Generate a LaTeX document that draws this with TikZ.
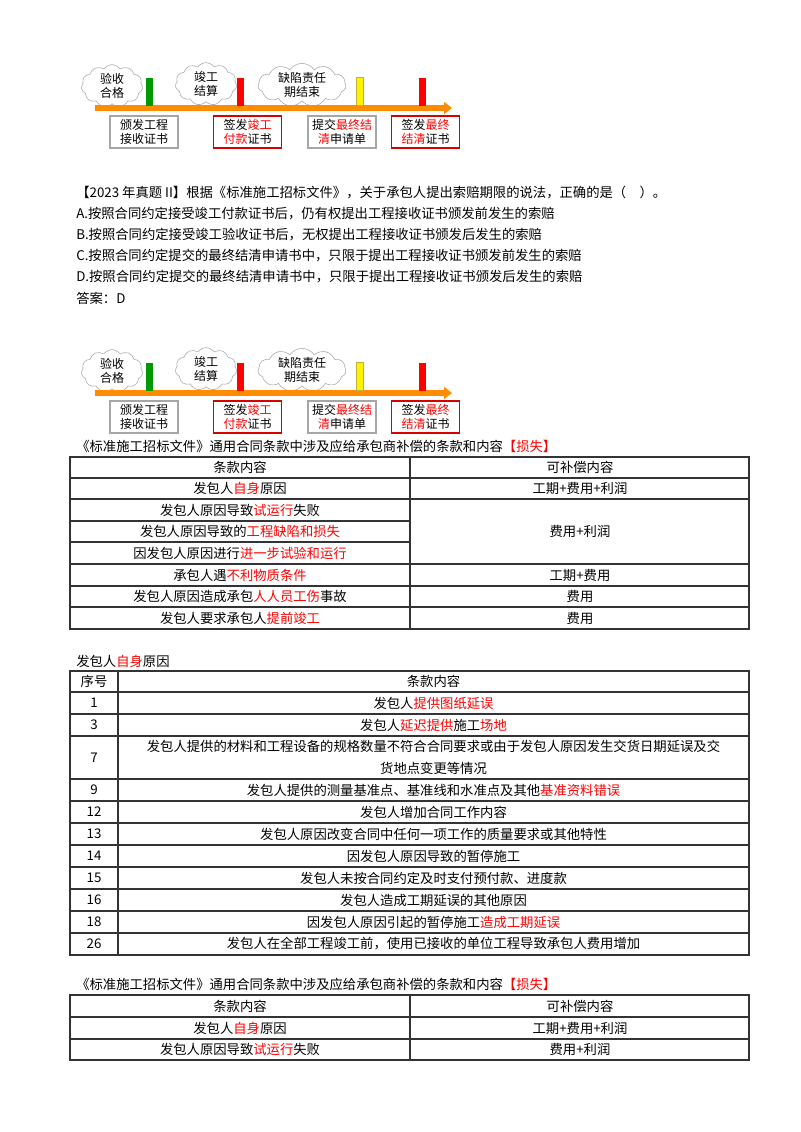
\documentclass[tikz,border=0pt]{standalone}
\usepackage{fontspec}
\setmainfont{Noto Sans CJK SC}
\usetikzlibrary{shapes.symbols,arrows.meta}
\newcommand\RD[1]{\textcolor{red}{#1}}
\tikzset{
 cl/.style={cloud,cloud puffs=11,cloud puff arc=110,aspect=1.5,draw=gray!70,fill=white,inner sep=0pt,minimum width=46pt,minimum height=32pt,font=\fontsize{9}{10}\selectfont,align=center},
 mk/.style={draw=none,minimum width=5.5pt,minimum height=21pt,inner sep=0pt},
 gb/.style={draw=gray!70,line width=0.8pt,minimum width=51pt,minimum height=24pt,inner sep=1pt,align=center,font=\fontsize{9}{10.5}\selectfont},
 rb/.style={gb,draw=red!85!black},
 tx/.style={anchor=west,inner sep=0pt,font=\fontsize{10}{12}\selectfont},
 ct/.style={inner sep=0pt,font=\fontsize{10}{12}\selectfont,align=center},
 tl/.style={line width=0.8pt,black!80}
}
\begin{document}
\begin{tikzpicture}[x=0.75pt,y=-0.75pt]
\useasboundingbox (0,0) rectangle (800,1132);
\foreach \o in {0,285}{
 \node[cl] (ca\o) at (112,86+\o) {验收\\合格};
 \node[cl] (cb\o) at (206,84+\o) {竣工\\结算};
 \node[cl,aspect=2,minimum width=66pt] (cc\o) at (302,85+\o) {缺陷责任\\期结束};
 \coordinate (s\o) at (95,108+\o);
 \coordinate (e\o) at (452,108+\o);
 \draw[line width=4.5pt,orange!90!yellow,-{Triangle[length=6pt,width=9pt]}] (s\o) -- (e\o);
 \node[mk,fill=green!60!black,anchor=south] (m1\o) at (149.5,106+\o) {};
 \node[mk,fill=red,anchor=south] (m2\o) at (240.5,106+\o) {};
 \node[mk,fill=yellow,draw=yellow!70!black,anchor=south] (m3\o) at (359.5,106+\o) {};
 \node[mk,fill=red,anchor=south] (m4\o) at (422.5,106+\o) {};
 \node[gb] (b1\o) at (144,132+\o) {颁发工程\\接收证书};
 \node[rb] (b2\o) at (247.5,132+\o) {签发\RD{竣工}\\\RD{付款}证书};
 \node[gb] (b3\o) at (342,132+\o) {提交\RD{最终结}\\\RD{清}申请单};
 \node[rb] (b4\o) at (425.5,132+\o) {签发\RD{最终}\\\RD{结清}证书};
}
\node[tx] (q0) at (76,193) {【2023 年真题 II】根据《标准施工招标文件》，关于承包人提出索赔期限的说法，正确的是（\quad）。};
\node[tx] (qa) at (76,214) {A.按照合同约定接受竣工付款证书后，仍有权提出工程接收证书颁发前发生的索赔};
\node[tx] (qb) at (76,235) {B.按照合同约定接受竣工验收证书后，无权提出工程接收证书颁发后发生的索赔};
\node[tx] (qc) at (76,256) {C.按照合同约定提交的最终结清申请书中，只限于提出工程接收证书颁发前发生的索赔};
\node[tx] (qd) at (76,277) {D.按照合同约定提交的最终结清申请书中，只限于提出工程接收证书颁发后发生的索赔};
\node[tx] (ans) at (76,298) {答案：D};
% table 1
\node[tx] (t1) at (76,446) {《标准施工招标文件》通用合同条款中涉及应给承包商补偿的条款和内容\RD{【损失】}};
\draw[tl] (70,457) rectangle (749,629);
\draw[tl] (410,457) -- (410,629);
\foreach \y in {478,499,564,586,607} \draw[tl] (70,\y) -- (749,\y);
\foreach \y in {521,542} \draw[tl] (70,\y) -- (410,\y);
\node[ct] at (240,467.5) {条款内容};
\node[ct] at (580,467.5) {可补偿内容};
\node[ct] at (240,488.5) {发包人\RD{自身}原因};
\node[ct] at (580,488.5) {工期+费用+利润};
\node[ct] at (240,510) {发包人原因导致\RD{试运行}失败};
\node[ct] at (240,531.5) {发包人原因导致的\RD{工程缺陷和损失}};
\node[ct] at (240,553) {因发包人原因进行\RD{进一步试验和运行}};
\node[ct] at (580,531.5) {费用+利润};
\node[ct] at (240,575) {承包人遇\RD{不利物质条件}};
\node[ct] at (580,575) {工期+费用};
\node[ct] at (240,596.5) {发包人原因造成承包\RD{人人员工伤}事故};
\node[ct] at (580,596.5) {费用};
\node[ct] at (240,618) {发包人要求承包人\RD{提前竣工}};
\node[ct] at (580,618) {费用};
% table 2
\node[tx] (t2) at (76,661) {发包人\RD{自身}原因};
\draw[tl] (70,671) rectangle (749,955);
\draw[tl] (118,671) -- (118,955);
\foreach \y in {692,714,736,779,801,823,845,867,889,911,933} \draw[tl] (70,\y) -- (749,\y);
\foreach \n/\y/\t in {序号/681.5/条款内容,1/703/发包人\RD{提供图纸延误},3/725/发包人\RD{延迟提供}施工\RD{场地},9/790/发包人提供的测量基准点、基准线和水准点及其他\RD{基准资料错误},12/812/发包人增加合同工作内容,13/834/发包人原因改变合同中任何一项工作的质量要求或其他特性,14/856/因发包人原因导致的暂停施工,15/878/发包人未按合同约定及时支付预付款、进度款,16/900/发包人造成工期延误的其他原因,18/922/因发包人原因引起的暂停施工\RD{造成工期延误},26/944/发包人在全部工程竣工前，使用已接收的单位工程导致承包人费用增加}{
 \node[ct] at (94,\y) {\n};
 \node[ct] at (433.5,\y) {\t};
}
\node[ct] at (94,757.5) {7};
\node[ct,font=\fontsize{10}{16}\selectfont] at (433.5,757.5) {发包人提供的材料和工程设备的规格数量不符合合同要求或由于发包人原因发生交货日期延误及交\\货地点变更等情况};
% table 3
\node[tx] (t3) at (76,984) {《标准施工招标文件》通用合同条款中涉及应给承包商补偿的条款和内容\RD{【损失】}};
\draw[tl] (70,995) rectangle (749,1060);
\draw[tl] (410,995) -- (410,1060);
\foreach \y in {1017,1039} \draw[tl] (70,\y) -- (749,\y);
\node[ct] at (240,1006) {条款内容};
\node[ct] at (580,1006) {可补偿内容};
\node[ct] at (240,1028) {发包人\RD{自身}原因};
\node[ct] at (580,1028) {工期+费用+利润};
\node[ct] at (240,1049.5) {发包人原因导致\RD{试运行}失败};
\node[ct] at (580,1049.5) {费用+利润};
\end{tikzpicture}
\end{document}
